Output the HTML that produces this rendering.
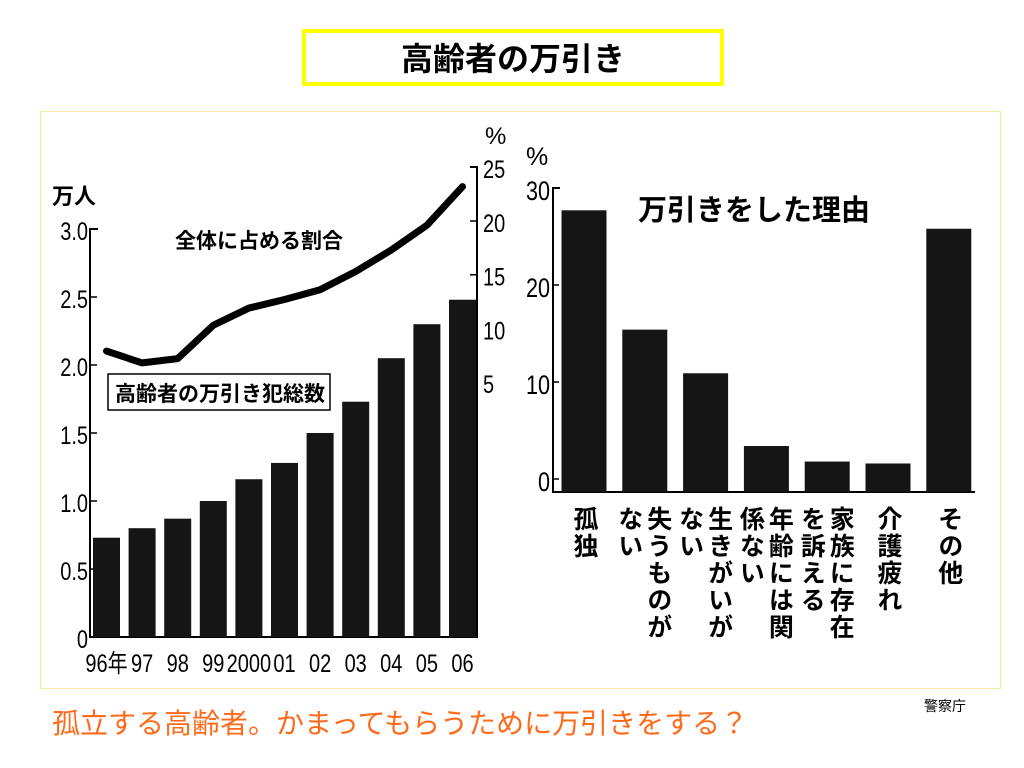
<!DOCTYPE html>
<html><head><meta charset="utf-8"><style>
body{margin:0;width:1024px;height:768px;background:#fff;overflow:hidden;position:relative;font-family:"Liberation Sans","Noto Sans CJK JP",sans-serif}
.abs{position:absolute}
</style></head><body>
<div class="abs" style="left:302px;top:29px;width:414px;height:49px;border:4px solid #ffff00;text-align:center;font-weight:bold;font-size:32px;line-height:52px;color:#000">高齢者の万引き</div>
<div class="abs" style="left:40px;top:111px;width:959px;height:576px;border:1px solid #f5e9a0"></div>
<svg class="abs" style="left:0;top:0" width="1024" height="768">
<g id="left" font-family="Liberation Sans, Noto Sans CJK JP, sans-serif"></g>
<g id="right" font-family="Liberation Sans, Noto Sans CJK JP, sans-serif"></g>
</svg>
<div class="abs" style="left:52px;top:702px;font-size:28px;color:#ff6a1a;white-space:nowrap">孤立する高齢者。かまってもらうために万引きをする？</div>
<div class="abs" style="left:924px;top:696px;font-size:14px;color:#000">警察庁</div>
<script>
const years=["96年","97","98","99","2000","01","02","03","04","05","06"];
const counts=[0.73,0.80,0.87,1.0,1.16,1.28,1.5,1.73,2.05,2.3,2.48];
const shares=[7.9,6.8,7.2,10.3,11.9,12.7,13.6,15.3,17.3,19.6,23.2];
const leftTicks=["0","0.5","1.0","1.5","2.0","2.5","3.0"];
const rightTicks=["5","10","15","20","25"];
const reasons=[["孤独"],["失うものが","ない"],["生きがいが","ない"],["年齢には関","係ない"],["家族に存在","を訴える"],["介護疲れ"],["その他"]];
const reasonVals=[27.7,15.4,10.9,3.4,1.8,1.6,25.8];
const reasonTicks=["0","10","20","30"];
const NS="http://www.w3.org/2000/svg";
function mk(p,t,a,txt){const e=document.createElementNS(NS,t);for(const k in a)e.setAttribute(k,a[k]);if(txt!==undefined)e.textContent=txt;p.appendChild(e);return e;}
// left chart
const L=document.getElementById('left');
const yL=v=>637-v*136;
const yR=v=>436-v*10.75;
const xL=i=>106.5+i*35.6;
let e;
e=mk(L,'path',{d:'M98 229 H90 V637 H477 V167 H470',fill:'none',stroke:'#000','stroke-width':2});

leftTicks.forEach(t=>{const v=parseFloat(t);
 e=mk(L,'line',{x1:90,x2:97,y1:yL(v),y2:yL(v),stroke:'#000','stroke-width':1.5});
 e=mk(L,'text',{x:88,y:yL(v)+11,'text-anchor':'end','font-size':25,transform:`scale(0.8,1)`,style:'transform-box:fill-box;transform-origin:right'},t);
 });
rightTicks.forEach(t=>{const v=parseFloat(t);
 mk(L,'line',{x1:470,x2:477,y1:yR(v),y2:yR(v),stroke:'#000','stroke-width':1.5});
 e=mk(L,'text',{x:483,y:yR(v)+11,'font-size':25,transform:`scale(0.8,1)`,style:'transform-box:fill-box;transform-origin:left'},t);
 });
e=mk(L,'text',{x:52,y:204,'font-size':22,'font-weight':'bold'},'万人');
e=mk(L,'text',{x:485,y:144,'font-size':24},'%');
counts.forEach((v,i)=>{e=mk(L,'rect',{x:xL(i)-13.5,y:yL(v),width:27,height:637-yL(v),fill:'#151515'});
 });
years.forEach((y,i)=>{e=mk(L,'text',{x:xL(i),y:672,'text-anchor':'middle','font-size':25,transform:'scale(0.8,1)',style:'transform-box:fill-box;transform-origin:center'},y);
 });
e=mk(L,'polyline',{points:shares.map((v,i)=>xL(i)+','+yR(v)).join(' '),fill:'none',stroke:'#000','stroke-width':7,'stroke-linejoin':'round','stroke-linecap':'round'});

e=mk(L,'text',{x:175,y:248,'font-size':21,'font-weight':'bold'},'全体に占める割合');
e=mk(L,'rect',{x:108,y:374,width:222,height:36,fill:'#fff',stroke:'#000','stroke-width':1.5});
e=mk(L,'text',{x:115,y:401,'font-size':21,'font-weight':'bold'},'高齢者の万引き犯総数');
// right chart
const R=document.getElementById('right');
const yQ=v=>479-v*9.7;
const xQ=i=>584+i*60.8;
e=mk(R,'path',{d:'M560 188 H553 V492 H975',fill:'none',stroke:'#000','stroke-width':2});
reasonTicks.forEach(t=>{const v=parseFloat(t);
 mk(R,'line',{x1:553,x2:559,y1:yQ(v),y2:yQ(v),stroke:'#000','stroke-width':1.5});
 e=mk(R,'text',{x:550,y:yQ(v)+12,'text-anchor':'end','font-size':27,transform:'scale(0.8,1)',style:'transform-box:fill-box;transform-origin:right'},t);
 });
e=mk(R,'text',{x:526,y:165,'font-size':25},'%');
e=mk(R,'text',{x:638,y:220,'font-size':29,'font-weight':'bold'},'万引きをした理由');
reasonVals.forEach((v,i)=>{e=mk(R,'rect',{x:xQ(i)-22.5,y:yQ(v),width:45,height:492-yQ(v),fill:'#151515'});
 });
reasons.forEach((cols,i)=>{cols.forEach((c,j)=>{
 const x=cols.length===1?xQ(i):xQ(i)+13-j*29;
 e=mk(R,'text',{x:x,y:506,'font-size':25,'font-weight':'bold','writing-mode':'vertical-rl',style:'writing-mode:vertical-rl;letter-spacing:2px'},c);
 });});
</script>
</body></html>
